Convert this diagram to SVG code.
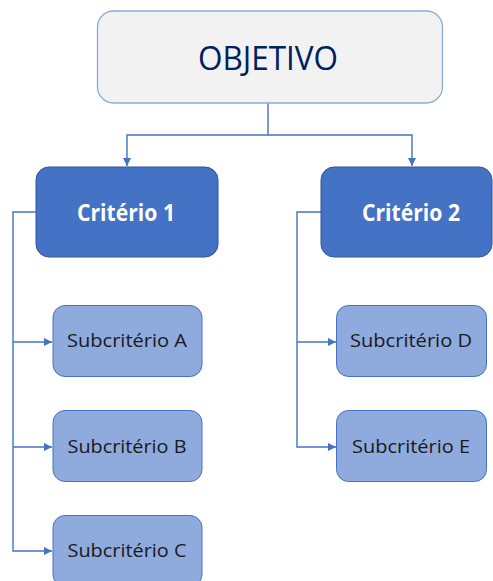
<svg xmlns="http://www.w3.org/2000/svg" width="493" height="581" viewBox="0 0 493 581">
  <style>
    .goal { fill: #F2F2F2; stroke: #8FAADC; stroke-width: 1.3; }
    .crit { fill: #4472C4; stroke: #2F5597; stroke-width: 1; }
    .sub  { fill: #8FAADC; stroke: #4472C4; stroke-width: 1; }
    .wire { fill: none; stroke: #4472C4; stroke-width: 1.4; }
    text { font-family: "Open Sans", "Liberation Sans", sans-serif; text-anchor: middle; }
    .t-goal { font-size: 32px; fill: #002060; }
    .t-crit { font-size: 23.5px; font-weight: bold; fill: #FFFFFF; }
    .t-sub  { font-size: 18.5px; fill: #1A1A1A; }
  </style>
  <defs>
    <marker id="arrow" viewBox="0 0 10 10" refX="10" refY="5" markerWidth="8" markerHeight="8" markerUnits="userSpaceOnUse" orient="auto">
      <path d="M0,0 L10,5 L0,10 Z" fill="#4472C4"/>
    </marker>
  </defs>

  <rect width="493" height="581" fill="#FFFFFF"/>

  <!-- connectors -->
  <g id="connectors">
    <path class="wire" d="M268,103 V135 H127 V166" marker-end="url(#arrow)"/>
    <path class="wire" d="M268,135 H412 V166" marker-end="url(#arrow)"/>
    <path class="wire" d="M36,212 H13 V551 H52" marker-end="url(#arrow)"/>
    <path class="wire" d="M13,342 H52" marker-end="url(#arrow)"/>
    <path class="wire" d="M13,447 H52" marker-end="url(#arrow)"/>
    <path class="wire" d="M321,212 H297 V447 H336" marker-end="url(#arrow)"/>
    <path class="wire" d="M297,342 H336" marker-end="url(#arrow)"/>
  </g>

  <g id="objetivo">
    <rect class="goal" x="97.5" y="11" width="345" height="92" rx="16"/>
    <text class="t-goal" x="268" y="70" textLength="140" lengthAdjust="spacingAndGlyphs">OBJETIVO</text>
  </g>

  <g id="criterio1">
    <rect class="crit" x="36" y="167" width="182" height="90" rx="13"/>
    <text class="t-crit" x="126" y="220.5" textLength="98" lengthAdjust="spacingAndGlyphs">Critério 1</text>
  </g>

  <g id="criterio2">
    <rect class="crit" x="321" y="167" width="171" height="90" rx="13"/>
    <text class="t-crit" x="411" y="220.5" textLength="98" lengthAdjust="spacingAndGlyphs">Critério 2</text>
  </g>

  <g id="subcriterioA">
    <rect class="sub" x="53" y="305.5" width="149" height="71" rx="12"/>
    <text class="t-sub" x="127" y="347" textLength="120" lengthAdjust="spacingAndGlyphs">Subcritério A</text>
  </g>

  <g id="subcriterioB">
    <rect class="sub" x="53" y="410.5" width="149" height="71" rx="12"/>
    <text class="t-sub" x="127" y="452.5" textLength="119" lengthAdjust="spacingAndGlyphs">Subcritério B</text>
  </g>

  <g id="subcriterioC">
    <rect class="sub" x="53" y="515.5" width="149" height="71" rx="12"/>
    <text class="t-sub" x="127" y="557" textLength="119" lengthAdjust="spacingAndGlyphs">Subcritério C</text>
  </g>

  <g id="subcriterioD">
    <rect class="sub" x="336.5" y="305.5" width="150" height="71" rx="12"/>
    <text class="t-sub" x="411" y="347" textLength="122" lengthAdjust="spacingAndGlyphs">Subcritério D</text>
  </g>

  <g id="subcriterioE">
    <rect class="sub" x="336.5" y="410.5" width="150" height="71" rx="12"/>
    <text class="t-sub" x="411" y="452.5" textLength="118" lengthAdjust="spacingAndGlyphs">Subcritério E</text>
  </g>
</svg>
